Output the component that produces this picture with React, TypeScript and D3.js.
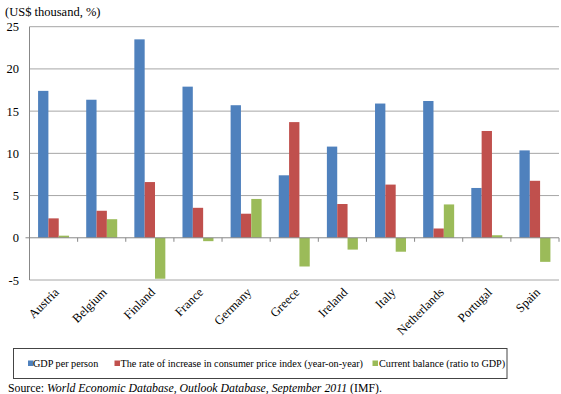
import React from "react";
import * as d3 from "d3";

const countries = ["Austria", "Belgium", "Finland", "France", "Germany", "Greece", "Ireland", "Italy", "Netherlands", "Portugal", "Spain"];
const gdpPerPerson = [17.4, 16.35, 23.5, 17.9, 15.7, 7.4, 10.8, 15.9, 16.2, 5.9, 10.35];
const cpiRate = [2.3, 3.2, 6.6, 3.55, 2.85, 13.7, 4.0, 6.3, 1.1, 12.65, 6.75];
const currentBalance = [0.25, 2.2, -4.85, -0.4, 4.6, -3.4, -1.4, -1.65, 3.95, 0.3, -2.85];
const yTicks = [-5, 0, 5, 10, 15, 20, 25];

const seriesNames = [
  "GDP per person",
  "The rate of increase in consumer price index (year-on-year)",
  "Current balance (ratio to GDP)",
];
const colors = ["#4F81BD", "#C0504D", "#9BBB59"];

const W = 561;
const H = 394;
const left = 29.5;
const right = 559;
const top = 26.7;
const bottom = 280;
const serif = { fontFamily: "Liberation Serif" };

export default function App() {
  const series = [gdpPerPerson, cpiRate, currentBalance];
  const y = d3.scaleLinear().domain([-5, 25]).range([bottom, top]);
  const x = d3.scaleBand<string>().domain(countries).range([left, right]);
  const inner = d3
    .scaleBand<number>()
    .domain([0, 1, 2])
    .range([0, x.bandwidth()])
    .paddingInner(0)
    .paddingOuter(0.83);
  const y0 = y(0);

  return (
    <svg
      width={W}
      height={H}
      style={{ position: "absolute", left: 0, top: 0, background: "#fff" }}
    >
      <text x={5} y={16} fontSize={12.5} fill="#000" style={serif}>
        (US$ thousand, %)
      </text>
      {/* gridlines and value labels */}
      {yTicks.map((t) => (
        <g key={t}>
          {t !== 0 && (
            <line x1={left} x2={right} y1={y(t)} y2={y(t)} stroke="#A6A6A6" strokeWidth={1} />
          )}
          <text x={19} y={y(t) + 4.5} fontSize={12.5} textAnchor="end" fill="#000" style={serif}>
            {t}
          </text>
        </g>
      ))}
      {/* bars */}
      {countries.map((c, i) => (
        <g key={c}>
          {series.map((s, k) => {
            const v = s[i];
            const bx = (x(c) as number) + (inner(k) as number);
            return (
              <rect
                key={k}
                x={bx}
                width={inner.bandwidth()}
                y={Math.min(y(v), y0)}
                height={Math.abs(y(v) - y0)}
                fill={colors[k]}
              />
            );
          })}
        </g>
      ))}
      {/* axes */}
      <line x1={left} x2={left} y1={top} y2={bottom} stroke="#888" strokeWidth={1} />
      <line x1={left} x2={right} y1={y0} y2={y0} stroke="#888" strokeWidth={1} />
      {countries.map((c) => (
        <line
          key={"t" + c}
          x1={(x(c) as number) + x.bandwidth()}
          x2={(x(c) as number) + x.bandwidth()}
          y1={y0}
          y2={y0 + 4}
          stroke="#888"
        />
      ))}
      <line x1={left - 4} x2={left} y1={y0} y2={y0} stroke="#888" />
      {/* category labels */}
      {countries.map((c) => {
        const cx = (x(c) as number) + x.bandwidth() / 2 + 6;
        const cy = 293;
        return (
          <text
            key={"l" + c}
            transform={`translate(${cx},${cy}) rotate(-45)`}
            textAnchor="end"
            fontSize={12.5}
            fill="#000"
            style={serif}
          >
            {c}
          </text>
        );
      })}
      {/* legend */}
      <rect x={13.5} y={348.5} width={493.5} height={30} fill="none" stroke="#444" strokeWidth={1} />
      {[
        { sx: 28, tx: 33 },
        { sx: 114.5, tx: 120.5 },
        { sx: 372.5, tx: 379 },
      ].map((p, k) => (
        <g key={"lg" + k}>
          <rect x={p.sx} y={360.5} width={5.5} height={5.5} fill={colors[k]} />
          <text x={p.tx} y={367} fontSize={10.2} fill="#000" style={serif}>
            {seriesNames[k]}
          </text>
        </g>
      ))}
      <text x={8} y={392} fontSize={11.8} fill="#000" style={serif}>
        Source:{" "}
        <tspan fontStyle="italic">World Economic Database, Outlook Database, September 2011</tspan> (IMF).
      </text>
    </svg>
  );
}
